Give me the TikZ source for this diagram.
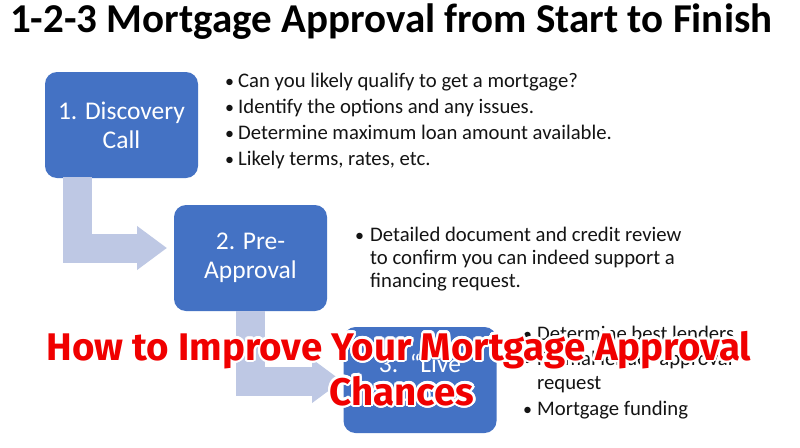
\documentclass[tikz,border=0pt]{standalone}
\usepackage{fontspec}
\setmainfont{Carlito}
\newfontfamily\redfont{Fira Sans}
\usepackage[copies]{contour}
\contourlength{2.2pt}
\contournumber{24}
\usetikzlibrary{arrows.meta}
\definecolor{boxblue}{RGB}{68,114,196}
\definecolor{arrowblue}{RGB}{190,200,228}
\definecolor{textgray}{RGB}{20,20,20}
\definecolor{overred}{RGB}{240,0,0}
\begin{document}
\begin{tikzpicture}[x=1pt,y=-1pt,
  stepbox/.style={draw=none, fill=boxblue, rounded corners=12pt, minimum width=153pt, minimum height=106pt, text=white, align=center, font=\fontsize{25.5}{29}\selectfont, inner sep=0pt},
  bigarrow/.style={draw=arrowblue, line width=29pt, line join=miter, -{Triangle[width=42pt,length=30pt]}},
  bullettext/.style={anchor=base west, inner sep=0pt, text=textgray, font=\fontsize{20.7}{24}\selectfont},
  bulletdot/.style={anchor=base west, inner sep=0pt, text=textgray, font=\fontsize{18}{24}\selectfont},
  overlay/.style={anchor=base, inner sep=0pt, font=\redfont\bfseries\fontsize{38.5}{46}\selectfont}
]
\useasboundingbox (0,0) rectangle (800,447);
\fill[white] (0,0) rectangle (800,447);
% title
\node[anchor=base west, inner sep=0pt, font=\bfseries\fontsize{41}{46}\selectfont] (title) at (10,32) {1-2-3 Mortgage Approval from Start to Finish};
% boxes
\node[stepbox] (box1) at (121.5,125) {1. Discovery\\Call};
\node[stepbox] (box2) at (250.5,258) {2. Pre-\\Approval};
\node[stepbox] (box3) at (420,380) {3.\ \ ``Live\\Approval''};
% arrows
\coordinate (a1s) at (77.5,177);
\coordinate (a1e) at (167,248);
\coordinate (a2s) at (250,311);
\coordinate (a2e) at (342,381);
\draw[bigarrow] (a1s) |- (a1e);
\draw[bigarrow] (a2s) |- (a2e);
% bullets 1
\node[bulletdot] (d11) at (225,87) {•};
\node[bullettext] (t11) at (238,87) {Can you likely qualify to get a mortgage?};
\node[bulletdot] (d12) at (225,113) {•};
\node[bullettext] (t12) at (238,113) {Identify the options and any issues.};
\node[bulletdot] (d13) at (225,139) {•};
\node[bullettext] (t13) at (238,139) {Determine maximum loan amount available.};
\node[bulletdot] (d14) at (225,165) {•};
\node[bullettext] (t14) at (238,165) {Likely terms, rates, etc.};
% bullets 2
\node[bulletdot] (d21) at (355,241) {•};
\node[bullettext] (t21) at (370,241) {Detailed document and credit review};
\node[bullettext] (t22) at (370,264) {to confirm you can indeed support a};
\node[bullettext] (t23) at (370,287) {financing request.};
% bullets 3
\node[bulletdot] (d31) at (523,340) {•};
\node[bullettext] (t31) at (537,340) {Determine best lenders};
\node[bulletdot] (d32) at (523,365) {•};
\node[bullettext] (t32) at (537,365) {Formal lender approval};
\node[bullettext] (t33) at (537,389) {request};
\node[bulletdot] (d34) at (523,415) {•};
\node[bullettext] (t34) at (537,415) {Mortgage funding};
% red overlay
\node[overlay] (ov1) at (399,360) {\contour{white}{\textcolor{overred}{How to Improve Your Mortgage Approval}}};
\node[overlay] (ov2) at (402,405) {\contour{white}{\textcolor{overred}{Chances}}};
\end{tikzpicture}
\end{document}
